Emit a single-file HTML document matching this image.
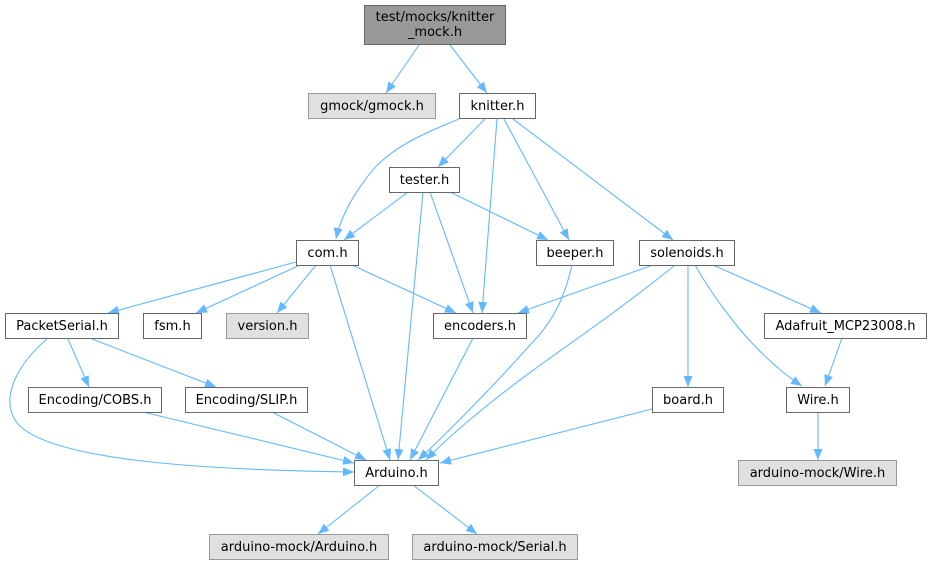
<!DOCTYPE html>
<html><head><meta charset="utf-8"><style>
html,body{margin:0;padding:0;background:#fff;}
svg{display:block;}
text{font-family:"DejaVu Sans","Liberation Sans",sans-serif;font-size:13px;fill:#000;}
</style></head><body>
<svg width="933" height="564" viewBox="0 0 933 564" xmlns="http://www.w3.org/2000/svg">
<defs>
<marker id="a" markerWidth="11" markerHeight="9" refX="11" refY="4.5" orient="auto" markerUnits="userSpaceOnUse">
<path d="M0,0 L11,4.5 L0,9 z" fill="#63b8ff"/>
</marker>
</defs>
<g fill="none" stroke="#63b8ff" stroke-width="1.1" marker-end="url(#a)">
<path d="M419,45 L386,93"/>
<path d="M450,45 L487,93"/>
<path d="M459,119 C420,135 385,150 365,180 C350,200 340,220 336,239"/>
<path d="M485,119 L438,167"/>
<path d="M497,119 L482,313"/>
<path d="M504,119 L569,240"/>
<path d="M513,119 L673,240"/>
<path d="M408,192 L344,240"/>
<path d="M423,192 L398,460"/>
<path d="M430,192 L473,313"/>
<path d="M450,192 L548,240"/>
<path d="M296,262 L108,313"/>
<path d="M300,265 L196,313"/>
<path d="M316,265 L277,313"/>
<path d="M352,265 L456,313"/>
<path d="M330,265 L390,460"/>
<path d="M572,265 C565,295 555,320 530,345 C490,390 440,440 418,460"/>
<path d="M653,265 L518,313"/>
<path d="M675,265 C620,310 560,350 520,380 C480,410 445,440 426,460"/>
<path d="M688,265 L688,387"/>
<path d="M695,265 C712,295 735,325 752,343 C768,360 785,375 802,386"/>
<path d="M713,265 L821,313"/>
<path d="M842,338 L825,386"/>
<path d="M818,412 L818,460"/>
<path d="M473,338 L410,460"/>
<path d="M68,339 L89,387"/>
<path d="M92,339 L216,387"/>
<path d="M47,339 C20,362 0,395 15,420 C40,460 200,470 354,472"/>
<path d="M143,412 L354,463"/>
<path d="M272,412 L366,460"/>
<path d="M652,409 L440,463"/>
<path d="M380,485 L318,534"/>
<path d="M413,485 L477,534"/>
</g>
<g stroke-width="1">
<rect x="364.5" y="5.5" width="141" height="39" fill="#999999" stroke="#666666"/>
<rect x="308.5" y="93.5" width="127" height="25" fill="#e0e0e0" stroke="#999999"/>
<rect x="459.5" y="93.5" width="76" height="25" fill="#fff" stroke="#666666"/>
<rect x="389.5" y="167.5" width="70" height="25" fill="#fff" stroke="#666666"/>
<rect x="296.5" y="240.5" width="62" height="25" fill="#fff" stroke="#666666"/>
<rect x="536.5" y="240.5" width="77" height="25" fill="#fff" stroke="#666666"/>
<rect x="639.5" y="240.5" width="95" height="25" fill="#fff" stroke="#666666"/>
<rect x="5.5" y="313.5" width="113" height="25" fill="#fff" stroke="#666666"/>
<rect x="143.5" y="313.5" width="58" height="25" fill="#fff" stroke="#666666"/>
<rect x="226.5" y="313.5" width="82" height="25" fill="#e0e0e0" stroke="#999999"/>
<rect x="433.5" y="313.5" width="93" height="25" fill="#fff" stroke="#666666"/>
<rect x="764.5" y="313.5" width="162" height="25" fill="#fff" stroke="#666666"/>
<rect x="28.5" y="387.5" width="133" height="25" fill="#fff" stroke="#666666"/>
<rect x="185.5" y="387.5" width="122" height="25" fill="#fff" stroke="#666666"/>
<rect x="652.5" y="387.5" width="71" height="25" fill="#fff" stroke="#666666"/>
<rect x="786.5" y="387.5" width="63" height="25" fill="#fff" stroke="#666666"/>
<rect x="354.5" y="460.5" width="84" height="25" fill="#fff" stroke="#666666"/>
<rect x="738.5" y="460.5" width="158" height="25" fill="#e0e0e0" stroke="#999999"/>
<rect x="209.5" y="534.5" width="179" height="25" fill="#e0e0e0" stroke="#999999"/>
<rect x="412.5" y="534.5" width="165" height="25" fill="#e0e0e0" stroke="#999999"/>
</g>
<g text-anchor="middle">
<text x="435" y="21">test/mocks/knitter</text>
<text x="435" y="36">_mock.h</text>
<text x="372" y="110">gmock/gmock.h</text>
<text x="497.5" y="110">knitter.h</text>
<text x="424.5" y="184">tester.h</text>
<text x="327.5" y="257">com.h</text>
<text x="575" y="257">beeper.h</text>
<text x="687" y="257">solenoids.h</text>
<text x="62" y="330">PacketSerial.h</text>
<text x="172.5" y="330">fsm.h</text>
<text x="267.5" y="330">version.h</text>
<text x="480" y="330">encoders.h</text>
<text x="845.5" y="330">Adafruit_MCP23008.h</text>
<text x="95" y="404">Encoding/COBS.h</text>
<text x="246.5" y="404">Encoding/SLIP.h</text>
<text x="688" y="404">board.h</text>
<text x="818" y="404">Wire.h</text>
<text x="396.5" y="477">Arduino.h</text>
<text x="817.5" y="477">arduino-mock/Wire.h</text>
<text x="299" y="551">arduino-mock/Arduino.h</text>
<text x="495" y="551">arduino-mock/Serial.h</text>
</g>
</svg>
</body></html>
